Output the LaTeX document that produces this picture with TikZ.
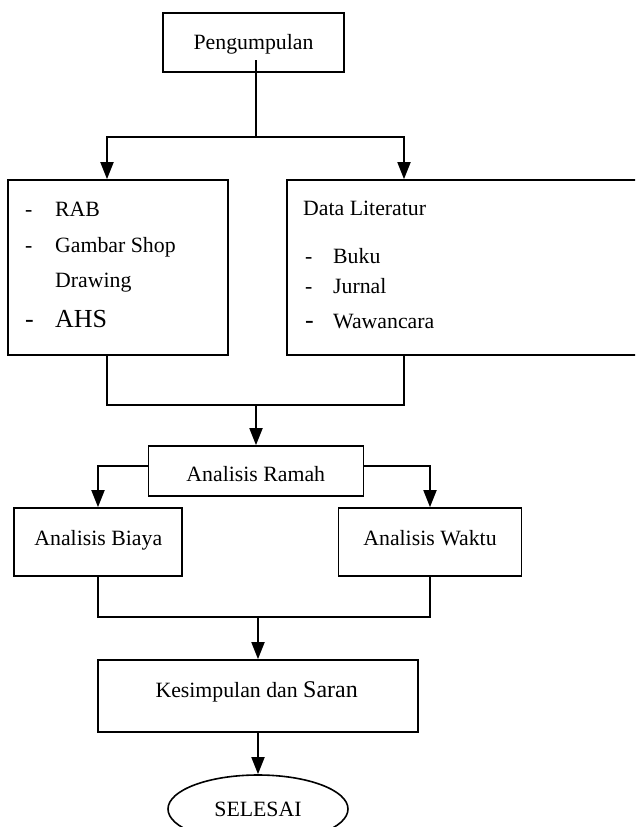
\documentclass[tikz,border=0pt]{standalone}
\usepackage{fontspec}
\setmainfont{Liberation Serif}
\usetikzlibrary{arrows.meta,shapes.geometric}
\begin{document}
\begin{tikzpicture}[x=1pt,y=-1pt,
  box/.style={draw,line width=1.6pt,inner sep=0pt},
  txt/.style={font=\fontsize{21.8}{26}\selectfont,inner sep=0pt},
  big/.style={font=\fontsize{26}{30}\selectfont,inner sep=0pt},
  conn/.style={line width=1.8pt},
  arr/.style={conn,-{Triangle[length=17pt,width=13pt]}}]
\clip (0,0) rectangle (635,827);
% boxes
\node[box,minimum width=181pt,minimum height=59pt] (pg) at (253.5,42.5) {};
\node[box,minimum width=220pt,minimum height=175pt] (lb) at (118,267.5) {};
\node[box,minimum width=360pt,minimum height=175pt] (rb) at (467,267.5) {};
\node[box,minimum width=215pt,minimum height=50pt] (ra) at (256,471) {};
\node[box,minimum width=168pt,minimum height=68pt] (bi) at (98,542) {};
\node[box,minimum width=183pt,minimum height=68pt] (wa) at (430,542) {};
\node[box,minimum width=320pt,minimum height=72pt] (ks) at (258,696) {};
\node[box,ellipse,minimum width=180pt,minimum height=68pt,txt] (sel) at (258,809) {SELESAI};
% texts
\node[txt,anchor=base] (pgt) at (253.5,49) {Pengumpulan};
\node[txt,anchor=base west] (d1) at (25,216) {-};
\node[txt,anchor=base west] (t1) at (55,216) {RAB};
\node[txt,anchor=base west] (d2) at (25,252) {-};
\node[txt,anchor=base west] (t2) at (55,252) {Gambar Shop};
\node[txt,anchor=base west] (t3) at (55,287) {Drawing};
\node[big,anchor=base west] (d4) at (25,327) {-};
\node[big,anchor=base west] (t4) at (55,327) {AHS};
\node[txt,anchor=base west] (r0) at (303,215) {Data Literatur};
\node[txt,anchor=base west] (e1) at (305,263) {-};
\node[txt,anchor=base west] (r1) at (333,263) {Buku};
\node[txt,anchor=base west] (e2) at (305,293) {-};
\node[txt,anchor=base west] (r2) at (333,293) {Jurnal};
\node[big,anchor=base west] (e3) at (305,328) {-};
\node[txt,anchor=base west] (r3) at (333,328) {Wawancara};
\node[txt,anchor=base] (rat) at (255.8,481) {Analisis Ramah};
\node[txt,anchor=base] (bit) at (98.3,545) {Analisis Biaya};
\node[txt,anchor=base] (wat) at (430,545) {Analisis Waktu};
\node[txt,anchor=base] (kst) at (256.7,697) {Kesimpulan dan {\fontsize{24}{28}\selectfont Saran}};
% junctions
\coordinate (pgin) at (256,60);
\coordinate (j1) at (256,137);
\coordinate (j2) at (256,405);
\coordinate (j3) at (258,617);
% connectors
\draw[conn] (pgin) -- (j1);
\draw[arr] (j1) -| ([xshift=-11pt]lb.north);
\draw[arr] (j1) -| ([xshift=-63pt]rb.north);
\draw[conn] ([xshift=-11pt]lb.south) |- (j2) -| ([xshift=-63pt]rb.south);
\draw[arr] (j2) -- (j2 |- ra.north);
\draw[arr] ([yshift=5pt]ra.west) -| (bi.north);
\draw[arr] ([yshift=5pt]ra.east) -| (wa.north);
\draw[conn] (bi.south) |- (j3) -| (wa.south);
\draw[arr] (j3) -- (j3 |- ks.north);
\draw[arr] (ks.south) -- (sel.north);
\end{tikzpicture}
\end{document}
